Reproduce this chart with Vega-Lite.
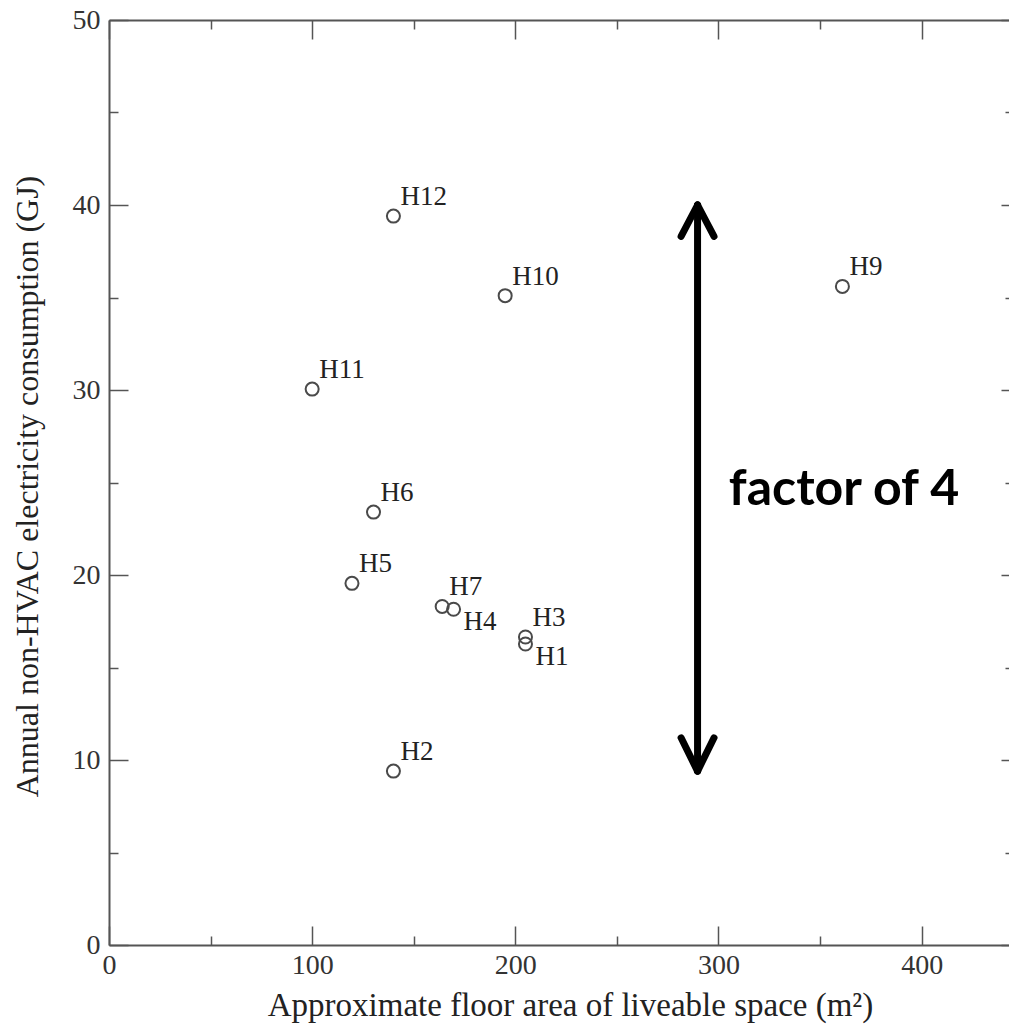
{
  "$schema": "https://vega.github.io/schema/vega-lite/v6.json",
  "autosize": "none",
  "padding": {"left": 109, "top": 20, "right": 0, "bottom": 82},
  "width": 900,
  "height": 925,
  "background": "white",
  "config": {
    "view": {"stroke": null},
    "font": "Liberation Serif",
    "axis": {
      "grid": false,
      "domainColor": "#555555",
      "domainWidth": 2,
      "tickColor": "#555555",
      "tickWidth": 1.5,
      "labelFont": "Liberation Serif",
      "labelFontSize": 28,
      "labelColor": "#333333",
      "labelFlush": false,
      "labelOverlap": false,
      "titleFont": "Liberation Serif",
      "titleFontSize": 32,
      "titleFontWeight": "normal",
      "titleColor": "#222222"
    }
  },
  "datasets": {
    "houses": [
      {"name": "H1", "area": 205, "gj": 16.27},
      {"name": "H2", "area": 140, "gj": 9.4},
      {"name": "H3", "area": 205, "gj": 16.65},
      {"name": "H4", "area": 169.6, "gj": 18.15},
      {"name": "H5", "area": 119.6, "gj": 19.55},
      {"name": "H6", "area": 130.2, "gj": 23.4},
      {"name": "H7", "area": 164, "gj": 18.3},
      {"name": "H9", "area": 361, "gj": 35.6},
      {"name": "H10", "area": 195, "gj": 35.1},
      {"name": "H11", "area": 100, "gj": 30.05},
      {"name": "H12", "area": 140, "gj": 39.4}
    ],
    "shaft": [{"x": 289.7, "y": 40, "y2": 9.4}],
    "heads": [
      {"x": 289.7, "y": 40, "x2": 281.6, "y2": 38.3},
      {"x": 289.7, "y": 40, "x2": 297.8, "y2": 38.3},
      {"x": 289.7, "y": 9.4, "x2": 281.6, "y2": 11.2},
      {"x": 289.7, "y": 9.4, "x2": 297.8, "y2": 11.2}
    ],
    "note": [{"x": 361.8, "y": 23.8, "text": "factor of 4"}]
  },
  "layer": [
    {
      "data": {"name": "houses"},
      "mark": {"type": "point", "shape": "circle", "filled": false, "stroke": "#4a4a4a", "strokeWidth": 2, "size": 170, "opacity": 1},
      "encoding": {
        "x": {
          "field": "area", "type": "quantitative",
          "scale": {"domain": [0, 443], "nice": false, "zero": false},
          "axis": {
            "orient": "bottom",
            "values": [0, 100, 200, 300, 400],
            "title": "Approximate floor area of liveable space (m²)",
            "tickSize": -19,
            "labelPadding": 47,
            "labelBaseline": "alphabetic",
            "titleFontSize": 33,
            "titleX": 461,
            "titleY": 70,
            "titleBaseline": "alphabetic",
            "titleAlign": "center"
          }
        },
        "y": {
          "field": "gj", "type": "quantitative",
          "scale": {"domain": [0, 50], "nice": false, "zero": false},
          "axis": {
            "orient": "left",
            "values": [0, 10, 20, 30, 40, 50],
            "title": "Annual non-HVAC electricity consumption (GJ)",
            "tickSize": -19,
            "labelPadding": 28,
            "titleX": -72,
            "titleY": 466,
            "titleAngle": 270,
            "titleBaseline": "alphabetic",
            "titleAlign": "center"
          }
        }
      }
    },
    {
      "data": {"name": "houses"},
      "transform": [{"filter": "datum.name !== 'H1' && datum.name !== 'H4'"}],
      "mark": {"type": "text", "align": "left", "baseline": "alphabetic", "dx": 7, "dy": -11, "font": "Liberation Serif", "fontSize": 27, "color": "#222222"},
      "encoding": {
        "x": {
          "field": "area", "type": "quantitative",
          "scale": {"domain": [0, 443], "nice": false, "zero": false},
          "axis": {"orient": "top", "values": [0, 100, 200, 300, 400], "tickSize": -19, "labels": false, "title": null}
        },
        "y": {
          "field": "gj", "type": "quantitative",
          "scale": {"domain": [0, 50], "nice": false, "zero": false},
          "axis": {"orient": "right", "values": [0, 10, 20, 30, 40, 50], "tickSize": -8, "labels": false, "domain": false, "title": null}
        },
        "text": {"field": "name", "type": "nominal"}
      }
    },
    {
      "data": {"name": "houses"},
      "transform": [{"filter": "datum.name === 'H1' || datum.name === 'H4'"}],
      "mark": {"type": "text", "align": "left", "baseline": "alphabetic", "dx": 10, "dy": 21, "font": "Liberation Serif", "fontSize": 27, "color": "#222222"},
      "encoding": {
        "x": {
          "field": "area", "type": "quantitative",
          "scale": {"domain": [0, 443], "nice": false, "zero": false},
          "axis": {"orient": "bottom", "values": [50, 150, 250, 350], "tickSize": -9, "labels": false, "domain": false, "title": null}
        },
        "y": {
          "field": "gj", "type": "quantitative",
          "scale": {"domain": [0, 50], "nice": false, "zero": false},
          "axis": {"orient": "left", "values": [5, 15, 25, 35, 45], "tickSize": -9, "labels": false, "domain": false, "title": null}
        },
        "text": {"field": "name", "type": "nominal"}
      }
    },
    {
      "data": {"name": "shaft"},
      "mark": {"type": "rule", "color": "black", "strokeWidth": 7, "strokeCap": "round"},
      "encoding": {
        "x": {
          "field": "x", "type": "quantitative",
          "scale": {"domain": [0, 443], "nice": false, "zero": false},
          "axis": {"orient": "top", "values": [50, 150, 250, 350], "tickSize": -9, "labels": false, "domain": false, "title": null}
        },
        "y": {
          "field": "y", "type": "quantitative",
          "scale": {"domain": [0, 50], "nice": false, "zero": false},
          "axis": {"orient": "right", "values": [5, 15, 25, 35, 45], "tickSize": -4, "labels": false, "domain": false, "title": null}
        },
        "y2": {"field": "y2"}
      }
    },
    {
      "data": {"name": "heads"},
      "mark": {"type": "rule", "color": "black", "strokeWidth": 7, "strokeCap": "round"},
      "encoding": {
        "x": {"field": "x", "type": "quantitative", "scale": {"domain": [0, 443], "nice": false, "zero": false}, "axis": null},
        "x2": {"field": "x2"},
        "y": {"field": "y", "type": "quantitative", "scale": {"domain": [0, 50], "nice": false, "zero": false}, "axis": null},
        "y2": {"field": "y2"}
      }
    },
    {
      "data": {"name": "note"},
      "mark": {"type": "text", "align": "center", "baseline": "alphabetic", "font": "Lato", "fontWeight": "bold", "fontSize": 50, "color": "black"},
      "encoding": {
        "x": {"field": "x", "type": "quantitative", "scale": {"domain": [0, 443], "nice": false, "zero": false}, "axis": null},
        "y": {"field": "y", "type": "quantitative", "scale": {"domain": [0, 50], "nice": false, "zero": false}, "axis": null},
        "text": {"field": "text", "type": "nominal"}
      }
    }
  ],
  "resolve": {"axis": {"x": "independent", "y": "independent"}}
}
